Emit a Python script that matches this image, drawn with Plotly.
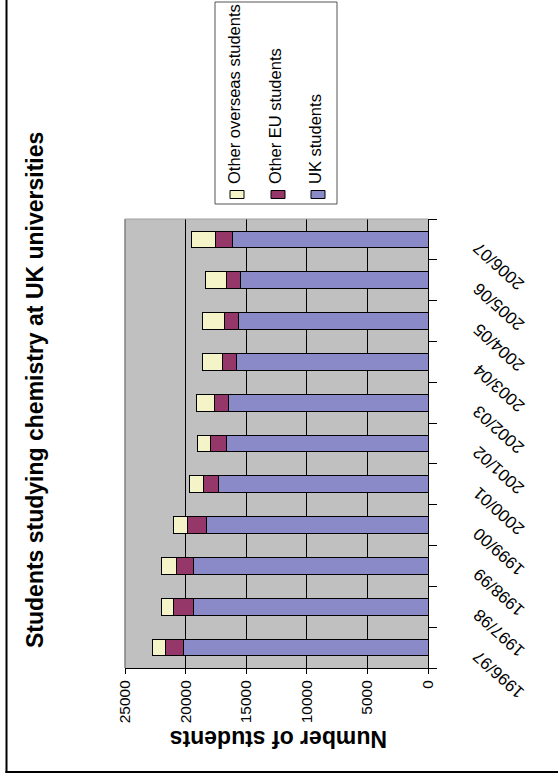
import plotly.graph_objects as go

# ---------------- data ----------------
categories = ["1996/97", "1997/98", "1998/99", "1999/00", "2000/01", "2001/02",
              "2002/03", "2003/04", "2004/05", "2005/06", "2006/07"]
uk_students = [20200, 19350, 19350, 18250, 17250, 16600, 16450, 15800, 15650, 15450, 16100]
eu_students = [1420, 1650, 1430, 1590, 1300, 1320, 1150, 1150, 1130, 1150, 1460]
overseas_students = [1130, 990, 1200, 1190, 1150, 1130, 1480, 1620, 1810, 1790, 1980]
value_ticks = [0, 5000, 10000, 15000, 20000, 25000]
series_names = ["Other overseas students", "Other EU students", "UK students"]

title_text = "Students studying chemistry at UK universities"
axis_title = "Number of students"

# ---------------- style ----------------
W, H = 558, 778
L, R, T, B = 125, 428, 219, 668   # plot area in window pixels
FONT = "Liberation Sans, Arial, sans-serif"
C_UK, C_EU, C_OV = "#8A8AC8", "#953768", "#F4F4C8"
colors = {"UK students": C_UK, "Other EU students": C_EU, "Other overseas students": C_OV}


def px(x):
    return (x - L) / (R - L)


def py(y):
    return (B - y) / (B - T)


fig = go.Figure()
for name, vals, col in [("UK students", uk_students, C_UK),
                        ("Other EU students", eu_students, C_EU),
                        ("Other overseas students", overseas_students, C_OV)]:
    fig.add_trace(go.Bar(
        y=categories, x=vals, name=name, orientation="h",
        marker=dict(color=col, line=dict(color="#000000", width=1)),
        showlegend=False,
    ))

shapes = []
annotations = []

# outer chart border (only left and bottom edges visible in the picture)
shapes.append(dict(type="rect", xref="paper", yref="paper",
                   x0=px(5.5), x1=px(7.5), y0=py(773), y1=py(0),
                   fillcolor="#000000", line=dict(width=0)))
shapes.append(dict(type="rect", xref="paper", yref="paper",
                   x0=px(5.5), x1=px(558), y0=py(773), y1=py(771),
                   fillcolor="#000000", line=dict(width=0)))
# plot area left/top border (gray)
shapes.append(dict(type="line", xref="paper", yref="paper", x0=0, x1=0, y0=0, y1=1,
                   line=dict(color="#808080", width=1.5)))
shapes.append(dict(type="line", xref="paper", yref="paper", x0=0, x1=1, y0=1, y1=1,
                   line=dict(color="#A0A0A0", width=1)))

# legend box
shapes.append(dict(type="rect", xref="paper", yref="paper",
                   x0=px(215), x1=px(337), y0=py(204), y1=py(2),
                   fillcolor="#FFFFFF", line=dict(color="#555555", width=1)))
leg_x = [237, 278, 318]
for name, cx in zip(series_names, leg_x):
    shapes.append(dict(type="rect", xref="paper", yref="paper",
                       x0=px(cx - 7), x1=px(cx + 7), y0=py(198.5), y1=py(190.5),
                       fillcolor=colors[name], line=dict(color="#000000", width=1)))
    annotations.append(dict(xref="paper", yref="paper", x=px(cx - 3), y=py(186),
                            xanchor="center", yanchor="bottom", text=name,
                            textangle=-90, showarrow=False,
                            font=dict(family=FONT, size=16.5, color="#000000")))

# chart title (rotated)
annotations.append(dict(xref="paper", yref="paper", x=px(35), y=py(390),
                        xanchor="center", yanchor="middle", text="<b>" + title_text + "</b>",
                        textangle=-90, showarrow=False,
                        font=dict(family=FONT, size=23, color="#000000")))

# value axis title (upside down)
annotations.append(dict(xref="paper", yref="paper", x=px(279), y=py(739.5),
                        xanchor="center", yanchor="middle", text="<b>" + axis_title + "</b>",
                        textangle=180, showarrow=False,
                        font=dict(family=FONT, size=23, color="#000000")))

# category labels (rotated)
for c in categories:
    annotations.append(dict(xref="x domain", x=1, xshift=39, yref="y", y=c, yshift=4,
                            xanchor="left", yanchor="top", text=c, textangle=-138,
                            showarrow=False,
                            font=dict(family=FONT, size=17, color="#000000")))

fig.update_layout(
    width=W, height=H,
    margin=dict(l=L, r=W - R, t=T, b=H - B, pad=0),
    paper_bgcolor="#FFFFFF", plot_bgcolor="#C0C0C0",
    barmode="stack", bargap=0.59,
    font=dict(family=FONT, color="#000000"),
    shapes=shapes, annotations=annotations,
    xaxis=dict(range=[25000, 0], tickvals=value_ticks, ticktext=[str(v) for v in value_ticks],
               tickangle=-90, tickfont=dict(size=15.5, family=FONT),
               ticks="outside", ticklen=5, tickcolor="#000000", tickwidth=1,
               showline=True, linecolor="#000000", linewidth=1,
               showgrid=True, gridcolor="#000000", gridwidth=1, zeroline=False,
               automargin=False, fixedrange=True),
    yaxis=dict(type="category", categoryorder="array", categoryarray=categories,
               range=[-0.5, len(categories) - 0.5],
               side="right", showticklabels=False,
               ticks="outside", ticklen=8, tickcolor="#000000", tickwidth=1,
               tickson="boundaries",
               showline=True, linecolor="#000000", linewidth=1,
               showgrid=False, zeroline=False, automargin=False, fixedrange=True),
)

fig.write_html(
    "out.html",
    config={"displayModeBar": False},
    post_script=("document.documentElement.style.overflow='hidden';"
                 "document.body.style.overflow='hidden';"
                 "document.body.style.margin='0px';document.body.style.padding='0px';"),
)
